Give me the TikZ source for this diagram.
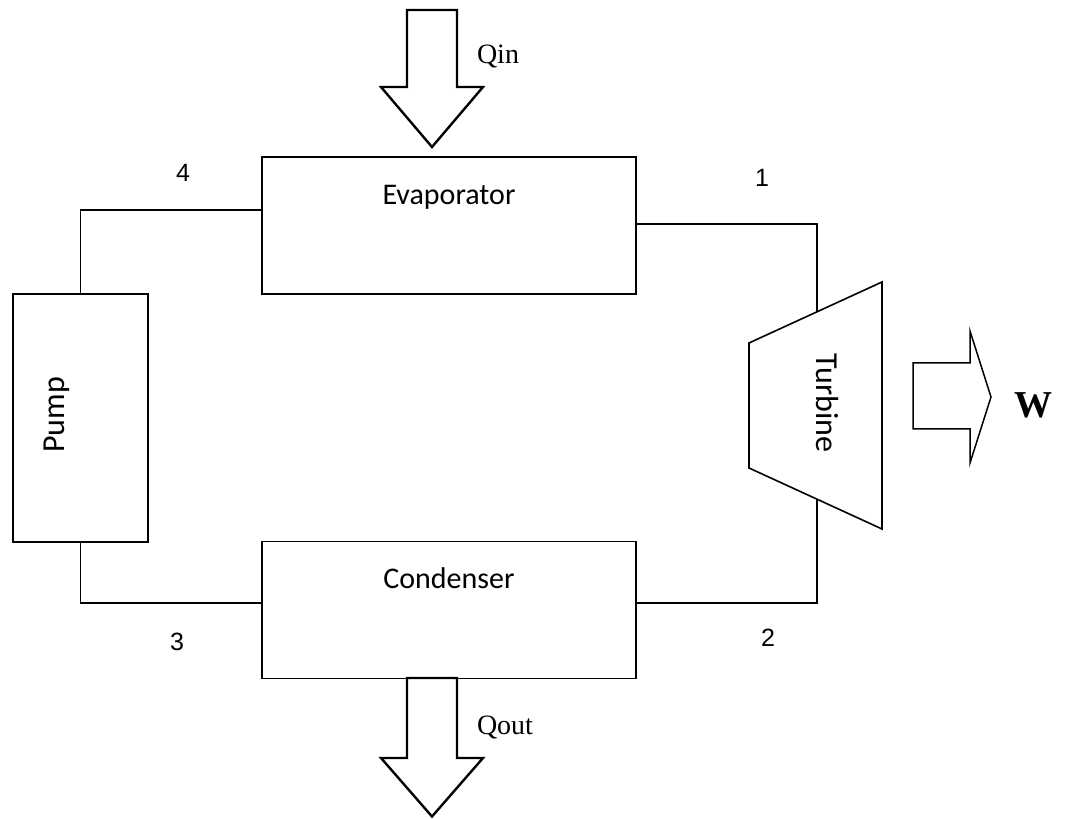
\documentclass[tikz,border=0pt]{standalone}
\usepackage{fontspec}
\setmainfont{Liberation Serif}
\newfontfamily\boxfont{Carlito}
\newfontfamily\numfont{Liberation Sans}

\begin{document}
\begin{tikzpicture}[x=1pt,y=1pt,
    unit/.style={draw, line width=1.6pt, minimum width=374pt, minimum height=137pt, inner sep=0pt},
    pipe/.style={line width=1.3pt},
    heat/.style={line width=2.4pt, line join=miter},
    boxtext/.style={font=\boxfont\fontsize{30}{36}\selectfont, inner sep=0pt},
    statenum/.style={font=\numfont\fontsize{25}{30}\selectfont, inner sep=0pt},
    heattext/.style={font=\fontsize{28}{34}\selectfont, inner sep=0pt}]
  \useasboundingbox (0,0) rectangle (1066,819);

  % Units
  \node[unit] (evap) at (449,593.5) {};
  \node[unit] (cond) at (449,209) {};
  \node[unit, minimum width=135pt, minimum height=248pt] (pump) at (80.5,401) {};

  \node[boxtext, anchor=base] (evaptxt) at ([yshift=-48pt]evap.north) {Evaporator};
  \node[boxtext, anchor=base] (condtxt) at ([yshift=-48pt]cond.north) {Condenser};
  \node[boxtext, rotate=90, font=\boxfont\fontsize{32}{38}\selectfont] (pumptxt) at (57,404) {Pump};

  % Turbine
  \coordinate (t1) at (749,476);
  \coordinate (t2) at (882,537);
  \coordinate (t3) at (882,290);
  \coordinate (t4) at (749,351);
  \draw[line width=1.6pt] (t1) -- (t2) -- (t3) -- (t4) -- cycle;
  \path (t1) -- (t2) coordinate[pos=0.511] (tin);
  \path (t4) -- (t3) coordinate[pos=0.511] (tout);
  \node[boxtext, rotate=-90, font=\boxfont\fontsize{32}{38}\selectfont] (turbtxt) at (827,416) {Turbine};

  % Pipes
  \draw[pipe] ([yshift=15.5pt]evap.west) -| (pump.north);
  \draw[pipe] ([yshift=1.5pt]evap.east) -| (tin);
  \draw[pipe] (tout) |- ([yshift=7pt]cond.east);
  \draw[pipe] ([yshift=7pt]cond.west) -| (pump.south);

  % State points
  \node[statenum] (s4) at (183,645.7) {4};
  \node[statenum] (s1) at (762,640.7) {1};
  \node[statenum] (s3) at (177,177.3) {3};
  \node[statenum] (s2) at (768,181) {2};

  % Heat in and out
  \draw[heat] (407,809) -- (457,809) -- (457,732) -- (483,732) -- (432,672)
    -- (381,732) -- (407,732) -- cycle;
  \node[heattext] (qin) at (498,762) {Qin};
  \draw[heat] (407,141) -- (457,141) -- (457,61) -- (483,61) -- (432,2.5)
    -- (381,61) -- (407,61) -- cycle;
  \node[heattext] (qout) at (505,91) {Qout};

  % Work out
  \draw[line width=1.5pt] (913,456) -- (970,456) -- (970,488) -- (991,422)
    -- (970,356) -- (970,390) -- (913,390) -- cycle;
  \node[font=\bfseries\fontsize{38}{44}\selectfont, inner sep=0pt] (work) at (1033,414) {W};

\end{tikzpicture}
\end{document}
